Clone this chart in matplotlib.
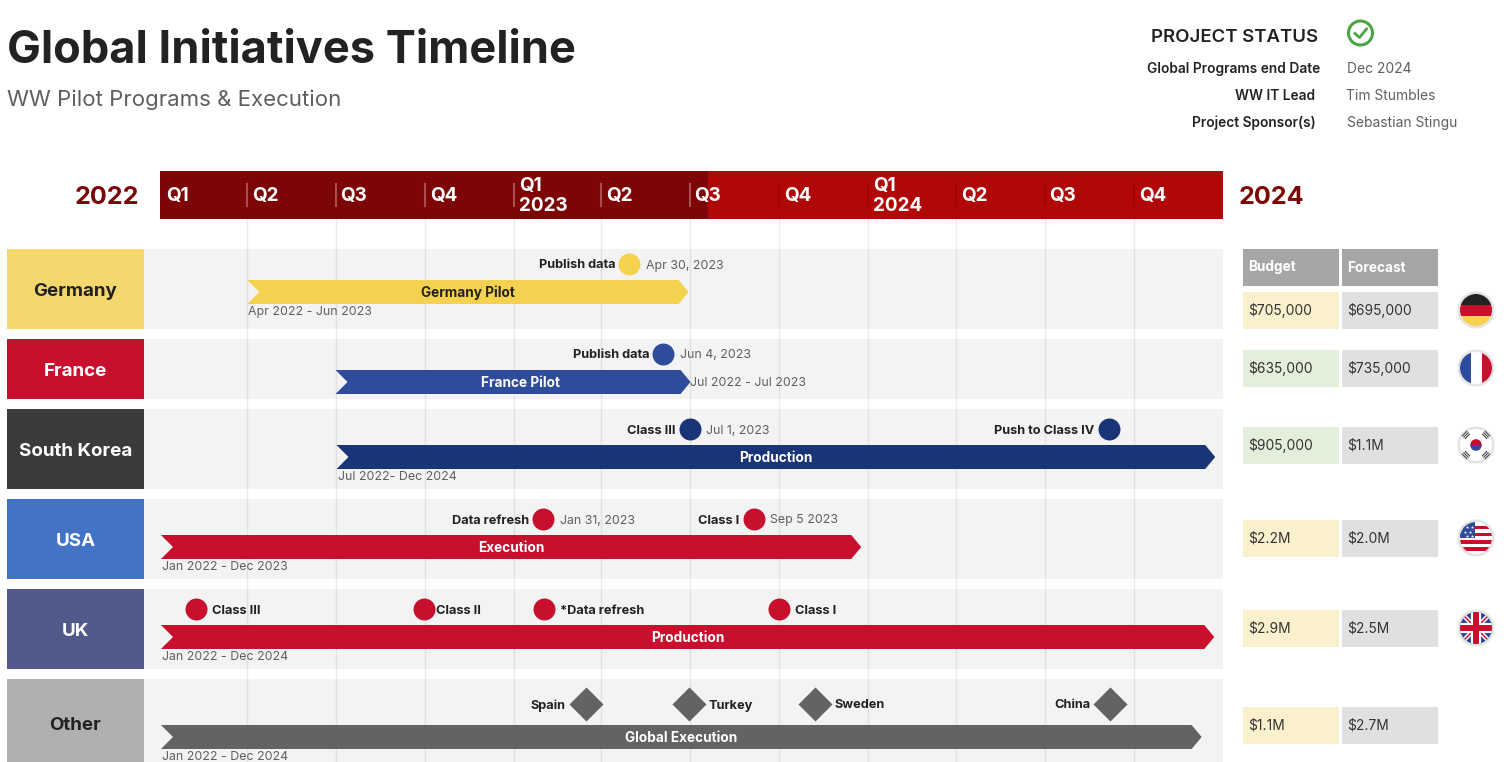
import datetime as dt
import matplotlib
matplotlib.use("Agg")
import matplotlib.pyplot as plt
import matplotlib.dates as mdates
from matplotlib.patches import Rectangle, Circle, Polygon, Wedge

plt.rcParams['font.family'] = ['Inter', 'DejaVu Sans']

# ---------- data ----------
countries = ["Germany", "France", "South Korea", "USA", "UK", "Other"]
bar_names = ["Germany Pilot", "France Pilot", "Production", "Execution", "Production", "Global Execution"]
bar_starts = ["2022-04-01", "2022-07-01", "2022-07-02", "2022-01-02", "2022-01-02", "2022-01-02"]
bar_ends = ["2023-06-30", "2023-07-02", "2024-12-24", "2023-12-25", "2024-12-23", "2024-12-10"]
range_labels = ["Apr 2022 - Jun 2023", "Jul 2022 - Jul 2023", "Jul 2022- Dec 2024",
                "Jan 2022 - Dec 2023", "Jan 2022 - Dec 2024", "Jan 2022 - Dec 2024"]
budgets = ["$705,000", "$635,000", "$905,000", "$2.2M", "$2.9M", "$1.1M"]
forecasts = ["$695,000", "$735,000", "$1.1M", "$2.0M", "$2.5M", "$2.7M"]
budget_status = ["amber", "green", "green", "amber", "amber", "amber"]
quarter_starts = ["2022-01-01", "2022-04-01", "2022-07-01", "2022-10-01", "2023-01-01", "2023-04-01",
                  "2023-07-01", "2023-10-01", "2024-01-01", "2024-04-01", "2024-07-01", "2024-10-01"]
quarter_labels = ["Q1", "Q2", "Q3", "Q4", "Q1\n2023", "Q2", "Q3", "Q4", "Q1\n2024", "Q2", "Q3", "Q4"]
progress_date = "2023-07-20"
# (country index, date, name, side of name, date text)
milestones = [
    (0, "2023-04-30", "Publish data", "left", "Apr 30, 2023"),
    (1, "2023-06-04", "Publish data", "left", "Jun 4, 2023"),
    (2, "2023-07-01", "Class III", "left", "Jul 1, 2023"),
    (2, "2024-09-05", "Push to Class IV", "left", ""),
    (3, "2023-01-31", "Data refresh", "left", "Jan 31, 2023"),
    (3, "2023-09-05", "Class I", "left", "Sep 5 2023"),
    (4, "2022-02-07", "Class III", "right", ""),
    (4, "2022-09-30", "Class II", "right", ""),
    (4, "2023-02-01", "*Data refresh", "right", ""),
    (4, "2023-10-01", "Class I", "right", ""),
    (5, "2023-03-16", "Spain", "left", ""),
    (5, "2023-06-30", "Turkey", "right", ""),
    (5, "2023-11-07", "Sweden", "right", ""),
    (5, "2024-09-07", "China", "left", ""),
]

# ---------- style / layout ----------
W, H = 1508, 762
row_tops = [249, 339, 409, 499, 589, 679]
row_bots = [329, 399, 489, 579, 669, 790]
label_cols = ["#F5D76E", "#C8102E", "#3B3B3B", "#4472C4", "#525A8C", "#B0B0B0"]
label_txt = ["#222222", "white", "white", "white", "white", "#222222"]
bar_cols = ["#F4D250", "#2F4B9B", "#1A3478", "#C8102E", "#C8102E", "#636363"]
bar_txt = ["#222222", "white", "white", "white", "white", "white"]
dot_cols = bar_cols
bar_tops = [280, 370, 445, 535, 625, 725]
dot_y = [264, 354, 429, 519, 609, 704]
range_y = [312.5, 382.5, 477.5, 567.5, 657.5, 757.5]
label_shift = [0, 7, 0, 0, 0, 0]
cell_tops = [292, 350, 427, 520, 610, 707]
flag_y = [310, 368, 445, 538, 628, None]
DARK, RED = "#7D0505", "#B00808"
INK, GREY = "#222222", "#5F5F5F"

fig = plt.figure(figsize=(W / 100, H / 100), dpi=100, facecolor="white")
ax = fig.add_axes([0, 0, 1, 1], zorder=0)
ax.set_xlim(0, W); ax.set_ylim(H, 0); ax.axis("off")

# timeline axes: x is a real date scale, y stays in layout pixels
x0, x1 = 160, 1223
at = fig.add_axes([x0 / W, 0, (x1 - x0) / W, 1], zorder=1)
at.patch.set_alpha(0)
d = lambda s: mdates.date2num(dt.date.fromisoformat(s))
at.set_xlim(d("2022-01-01"), d("2025-01-01"))
at.set_ylim(H, 0); at.axis("off")
PX = (at.get_xlim()[1] - at.get_xlim()[0]) / (x1 - x0)  # days per pixel


def off(txt, xy, dx, dy=0, **kw):
    at.annotate(txt, xy=xy, xytext=(dx, -dy), textcoords="offset pixels",
                annotation_clip=False, va="center", **kw)


# ---------- heading ----------
ax.text(7, 51, "Global Initiatives Timeline", fontsize=32.5, fontweight="bold", color=INK, va="center")
ax.text(7, 99.5, "WW Pilot Programs & Execution", fontsize=16.0, color=GREY, va="center")
ax.text(1318, 38, "PROJECT STATUS", fontsize=13.4, fontweight="semibold", color=INK, ha="right", va="center")
ax.add_patch(Circle((1360.5, 33), 12, fc="none", ec="#4EA444", lw=2.2))
ax.plot([1355, 1359.5, 1366.5], [33.5, 37.5, 29], color="#4EA444", lw=2)
meta = [("Global Programs end Date", 1320, "Dec 2024", 1347, 69),
        ("WW IT Lead", 1315, "Tim Stumbles", 1346, 96),
        ("Project Sponsor(s)", 1316, "Sebastian Stingu", 1347, 123)]
for k, kx, v, vx, y in meta:
    ax.text(kx, y, k, fontsize=9.9, fontweight="semibold", color=INK, ha="right", va="center")
    ax.text(vx, y, v, fontsize=9.95, color=GREY, va="center")

# ---------- rows ----------
for i, c in enumerate(countries):
    ax.add_patch(Rectangle((144, row_tops[i]), 1223 - 144, row_bots[i] - row_tops[i], fc="#F3F3F3", ec="none"))
    ax.add_patch(Rectangle((7, row_tops[i]), 137, row_bots[i] - row_tops[i], fc=label_cols[i], ec="none"))
    cy = (min(row_bots[i], 769) + row_tops[i]) / 2 + 2
    ax.text(75.5, cy, c, fontsize=13.5, fontweight="bold", color=label_txt[i], ha="center", va="center")

# ---------- header band ----------
at.add_patch(Rectangle((d("2022-01-01") - PX, 171), d("2025-01-01") - d("2022-01-01") + PX, 48, fc=RED, ec="none"))
at.add_patch(Rectangle((d("2022-01-01") - PX, 171), d(progress_date) - d("2022-01-01") + PX, 48, fc=DARK, ec="none"))
for q, lab in zip(quarter_starts, quarter_labels):
    xq = d(q)
    past = xq < d(progress_date)
    if xq > d("2022-01-01"):
        at.plot([xq, xq], [219, H], color="black", alpha=0.075, lw=1, zorder=1)
        at.plot([xq, xq], [184, 206], color="#A85050" if past else "#A00505", lw=1.5, zorder=3)
    off(lab, (xq, 196), 5 if xq > d("2022-01-01") else 6, fontsize=13.6, fontweight="bold",
        color="white", ha="left", linespacing=1.2, zorder=4)
ax.text(139, 197, "2022", fontsize=18.1, fontweight="bold", color=DARK, ha="right", va="center")
ax.text(1239, 197, "2024", fontsize=18.1, fontweight="bold", color=DARK, ha="left", va="center")

# ---------- bars ----------
for i in range(len(countries)):
    s, e = d(bar_starts[i]), d(bar_ends[i])
    t, b = bar_tops[i], bar_tops[i] + 24
    m = (t + b) / 2
    at.add_patch(Polygon([(s, t), (e - 10 * PX, t), (e, m), (e - 10 * PX, b), (s, b), (s + 12 * PX, m)],
                         closed=True, fc=bar_cols[i], ec="none", zorder=2))
    off(bar_names[i], ((s + e) / 2, m), label_shift[i], 1, fontsize=9.8, fontweight="bold", color=bar_txt[i],
        ha="center", zorder=3)
    anchor = e if i == 1 else s
    off(range_labels[i], (anchor, range_y[i]), -1 if i == 1 else 1, fontsize=8.9, color=GREY, ha="left", zorder=3)

# ---------- milestones ----------
for ci, date, name, side, dtxt in milestones:
    x = d(date); y = dot_y[ci]
    is_diamond = ci == 5
    at.scatter([x], [y], s=300 if is_diamond else 250, marker="D" if is_diamond else "o",
               color=dot_cols[ci], linewidths=0, zorder=4, clip_on=False)
    gap = 20 if is_diamond else (14 if side == "left" else 16)
    if name == "Class II":
        gap = 12
    if side == "left":
        off(name, (x, y), -gap, 1.5, fontsize=9.2, fontweight="bold", color=INK, ha="right", zorder=5)
    else:
        off(name, (x, y), gap, 1.5, fontsize=9.2, fontweight="bold", color=INK, ha="left", zorder=5)
    if dtxt:
        off(dtxt, (x, y), 16.5, 1.5, fontsize=8.9, color=GREY, ha="left", zorder=5)

# ---------- budget table ----------
status_col = {"amber": "#FBF0CD", "green": "#E3EFDB"}
for x, lab in [(1243, "Budget"), (1342, "Forecast")]:
    ax.add_patch(Rectangle((x, 249), 96, 37, fc="#A6A6A6", ec="none"))
    ax.text(x + 5, 267.5, lab, fontsize=9.8, fontweight="bold", color="white", va="center")
for i in range(len(countries)):
    y = cell_tops[i]
    ax.add_patch(Rectangle((1243, y), 96, 37, fc=status_col[budget_status[i]], ec="none"))
    ax.add_patch(Rectangle((1342, y), 96, 37, fc="#E0E0E0", ec="none"))
    ax.text(1248, y + 18.5, budgets[i], fontsize=9.95, color="#333333", va="center")
    ax.text(1347, y + 18.5, forecasts[i], fontsize=9.95, color="#333333", va="center")


# ---------- flags ----------
def flag(cy, kind, cx=1476, r=16):
    ax.add_patch(Circle((cx, cy), r + 2.5, fc="#E4E4E4", ec="none", zorder=5))
    clip = Circle((cx, cy), r, fc="white", ec="none", zorder=6)
    ax.add_patch(clip)

    def rect(x, y, w, h, c):
        p = Rectangle((cx + x, cy + y), w, h, fc=c, ec="none", zorder=7)
        ax.add_patch(p); p.set_clip_path(clip)

    def line(xs, ys, c, lw):
        l, = ax.plot([cx + v for v in xs], [cy + v for v in ys], color=c, lw=lw, zorder=7,
                     solid_capstyle="butt")
        l.set_clip_path(clip)

    if kind == "de":
        rect(-r, -r, 2 * r, 11, "#222222"); rect(-r, -5, 2 * r, 11, "#C8102E"); rect(-r, 6, 2 * r, 11, "#F4D250")
    elif kind == "fr":
        rect(-r, -r, 11, 2 * r, "#2F4B9B"); rect(6, -r, 11, 2 * r, "#C8102E")
    elif kind == "kr":
        ax.add_patch(Wedge((cx, cy), 5.8, 0, 180, fc="#2F4B9B", ec="none", zorder=7))
        ax.add_patch(Wedge((cx, cy), 5.8, 180, 360, fc="#C8102E", ec="none", zorder=8))
        for sx, sy in [(-1, -1), (1, -1), (-1, 1), (1, 1)]:
            for o in (-2, 0, 2):
                # three short strokes, perpendicular to the diagonal
                mx = sx * (10 + o * 0.7)
                my = sy * (10 + o * 0.7)
                ax.plot([cx + mx - sy * 2.2, cx + mx + sy * 2.2],
                        [cy + my + sx * 2.2, cy + my - sx * 2.2],
                        color="#444444", lw=0.8, zorder=7)
    elif kind == "us":
        for k in range(4):
            rect(-r, -12.5 + k * 7.2, 2 * r, 3.6, "#C8102E")
        rect(-r, -r, 15, 15.5, "#2F4B9B")
        ax.scatter([cx + v for v in (-9, -4, -11, -6, -9, -4)], [cy + v for v in (-11, -11, -6, -6, -2, -2)],
                   s=6, marker="*", color="white", linewidths=0, zorder=8)
    elif kind == "uk":
        rect(-r, -r, 2 * r, 2 * r, "#2F4B9B")
        line([-r, r], [-r, r], "white", 3.2); line([-r, r], [r, -r], "white", 3.2)
        line([-r, r], [-r, r], "#C8102E", 1.1); line([-r, r], [r, -r], "#C8102E", 1.1)
        rect(-r, -5, 2 * r, 10, "white"); rect(-5, -r, 10, 2 * r, "white")
        rect(-r, -3, 2 * r, 6, "#C8102E"); rect(-3, -r, 6, 2 * r, "#C8102E")


for fy, kind in zip(flag_y, ["de", "fr", "kr", "us", "uk", None]):
    if kind:
        flag(fy, kind)

fig.savefig("out.png", dpi=100, facecolor="white")
